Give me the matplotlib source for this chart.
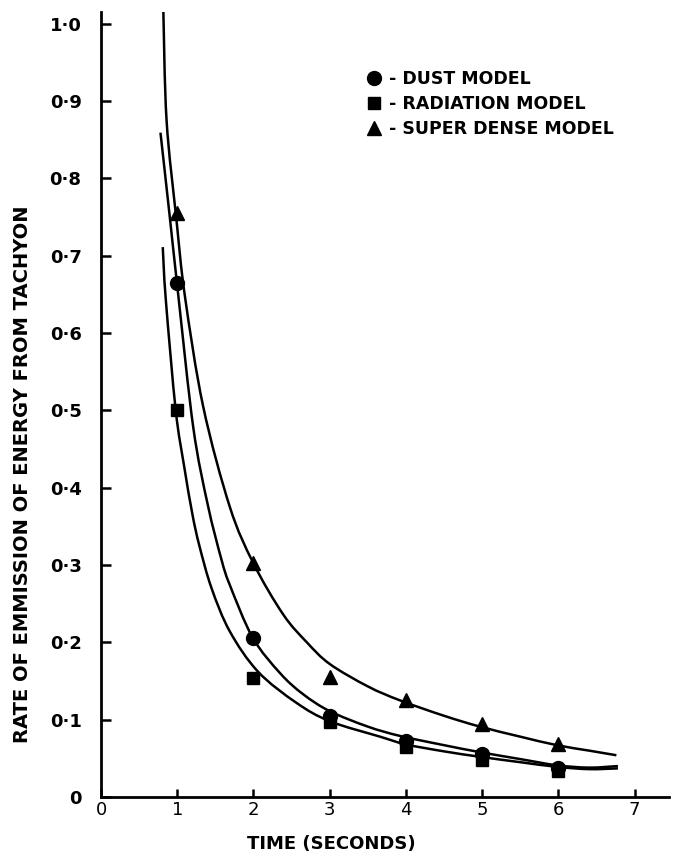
import matplotlib
matplotlib.use("Agg")
import matplotlib.pyplot as plt
from matplotlib.lines import Line2D
from matplotlib.path import Path
from matplotlib.patches import PathPatch

# ---- data ----
t_points = [1, 2, 3, 4, 5, 6]
dust_pts = [0.665, 0.205, 0.105, 0.072, 0.055, 0.038]
rad_pts = [0.50, 0.154, 0.097, 0.065, 0.048, 0.033]
sd_pts = [0.755, 0.302, 0.155, 0.125, 0.095, 0.068]

# fitted curves
dust_curve_t = [0.78, 0.90, 1.01, 1.21, 1.40, 1.58, 1.69, 1.99, 2.35, 2.65, 3.00, 3.50, 3.92, 4.50, 4.97, 5.50, 5.98, 6.40, 6.78]
dust_curve_y = [0.859, 0.752, 0.652, 0.478, 0.378, 0.307, 0.274, 0.206, 0.160, 0.133, 0.111, 0.091, 0.079, 0.067, 0.058, 0.049, 0.041, 0.038, 0.040]

rad_curve_t = [0.81, 0.85, 0.98, 1.09, 1.20, 1.29, 1.45, 1.69, 2.06, 2.56, 3.00, 3.66, 4.00, 4.50, 4.97, 5.50, 5.98, 6.40, 6.78]
rad_curve_y = [0.711, 0.643, 0.500, 0.428, 0.365, 0.325, 0.270, 0.214, 0.162, 0.122, 0.098, 0.078, 0.068, 0.059, 0.052, 0.045, 0.039, 0.036, 0.037]

sd_curve_t = [0.817, 0.86, 0.99, 1.10, 1.34, 1.69, 2.00, 2.39, 2.70, 3.00, 3.50, 3.92, 4.50, 4.97, 5.50, 5.98, 6.40, 6.76]
sd_curve_y = [1.02, 0.875, 0.746, 0.648, 0.505, 0.375, 0.302, 0.236, 0.200, 0.172, 0.143, 0.125, 0.105, 0.091, 0.078, 0.067, 0.060, 0.054]

x_ticks = [0, 1, 2, 3, 4, 5, 6, 7]
y_ticks = [0, 0.1, 0.2, 0.3, 0.4, 0.5, 0.6, 0.7, 0.8, 0.9, 1.0]
y_tick_labels = ["0", "0·1", "0·2", "0·3", "0·4", "0·5", "0·6", "0·7", "0·8", "0·9", "1·0"]
labels = ["- DUST MODEL", "- RADIATION MODEL", "- SUPER DENSE MODEL"]

plt.rcParams['font.family'] = ['DejaVu Sans']


def smooth_curve(ax, xs, ys, lw):
    """Draw a smooth (Catmull-Rom style Bezier) line through the given points."""
    pts = list(zip(xs, ys))
    verts = [pts[0]]
    codes = [Path.MOVETO]
    n = len(pts)
    for i in range(n - 1):
        p0 = pts[i - 1] if i > 0 else pts[i]
        p1 = pts[i]
        p2 = pts[i + 1]
        p3 = pts[i + 2] if i + 2 < n else pts[i + 1]
        c1 = (p1[0] + (p2[0] - p0[0]) / 6.0, p1[1] + (p2[1] - p0[1]) / 6.0)
        c2 = (p2[0] - (p3[0] - p1[0]) / 6.0, p2[1] - (p3[1] - p1[1]) / 6.0)
        verts += [c1, c2, p2]
        codes += [Path.CURVE4, Path.CURVE4, Path.CURVE4]
    patch = PathPatch(Path(verts, codes), facecolor='none', edgecolor='black',
                      lw=lw, capstyle='butt', clip_on=True)
    ax.add_patch(patch)


fig = plt.figure(figsize=(6.74, 8.55), dpi=100)
ax = fig.add_axes([101/674, 1 - 797/855, (669-101)/674, (797-12)/855])

lw = 1.8
smooth_curve(ax, dust_curve_t, dust_curve_y, lw)
smooth_curve(ax, rad_curve_t, rad_curve_y, lw)
smooth_curve(ax, sd_curve_t, sd_curve_y, lw)

ax.plot(t_points, dust_pts, 'o', color='black', ms=10, ls='none')
ax.plot(t_points, rad_pts, 's', color='black', ms=9, ls='none')
ax.plot(t_points, sd_pts, '^', color='black', ms=9.5, ls='none')

ax.set_xlim(0, 7.45)
ax.set_ylim(0, 1.015)

for s in ['top', 'right']:
    ax.spines[s].set_visible(False)
for s in ['left', 'bottom']:
    ax.spines[s].set_linewidth(2.0)

ax.set_xticks(x_ticks)
ax.set_xticklabels([str(v) for v in x_ticks], fontsize=13, fontweight='normal')
ax.set_yticks(y_ticks)
ax.set_yticklabels(y_tick_labels, fontsize=13, fontweight='bold')
ax.tick_params(axis='x', direction='in', length=6, width=1.8, pad=3)
ax.tick_params(axis='y', direction='in', length=7, width=1.8, pad=14)

ax.set_xlabel("TIME (SECONDS)", fontsize=13, fontweight='bold')
ax.xaxis.set_label_coords((331-101)/568, (797-835)/785)
ax.set_ylabel("RATE OF EMMISSION OF ENERGY FROM TACHYON", fontsize=14, fontweight='bold')
ax.yaxis.set_label_coords((32-101)/568, (797-474)/785)

handles = [
    Line2D([], [], marker='o', color='black', ls='none', ms=10),
    Line2D([], [], marker='s', color='black', ls='none', ms=9),
    Line2D([], [], marker='^', color='black', ls='none', ms=10),
]
leg = ax.legend(handles, labels, loc='upper left', bbox_to_anchor=(368.8/674, 1 - 70/855),
                bbox_transform=fig.transFigure, frameon=False, handlelength=0.6,
                handletextpad=0.55, labelspacing=0.4, prop={'size': 12.5, 'weight': 'bold'},
                borderpad=0, borderaxespad=0)

fig.savefig("out.png", dpi=100)
